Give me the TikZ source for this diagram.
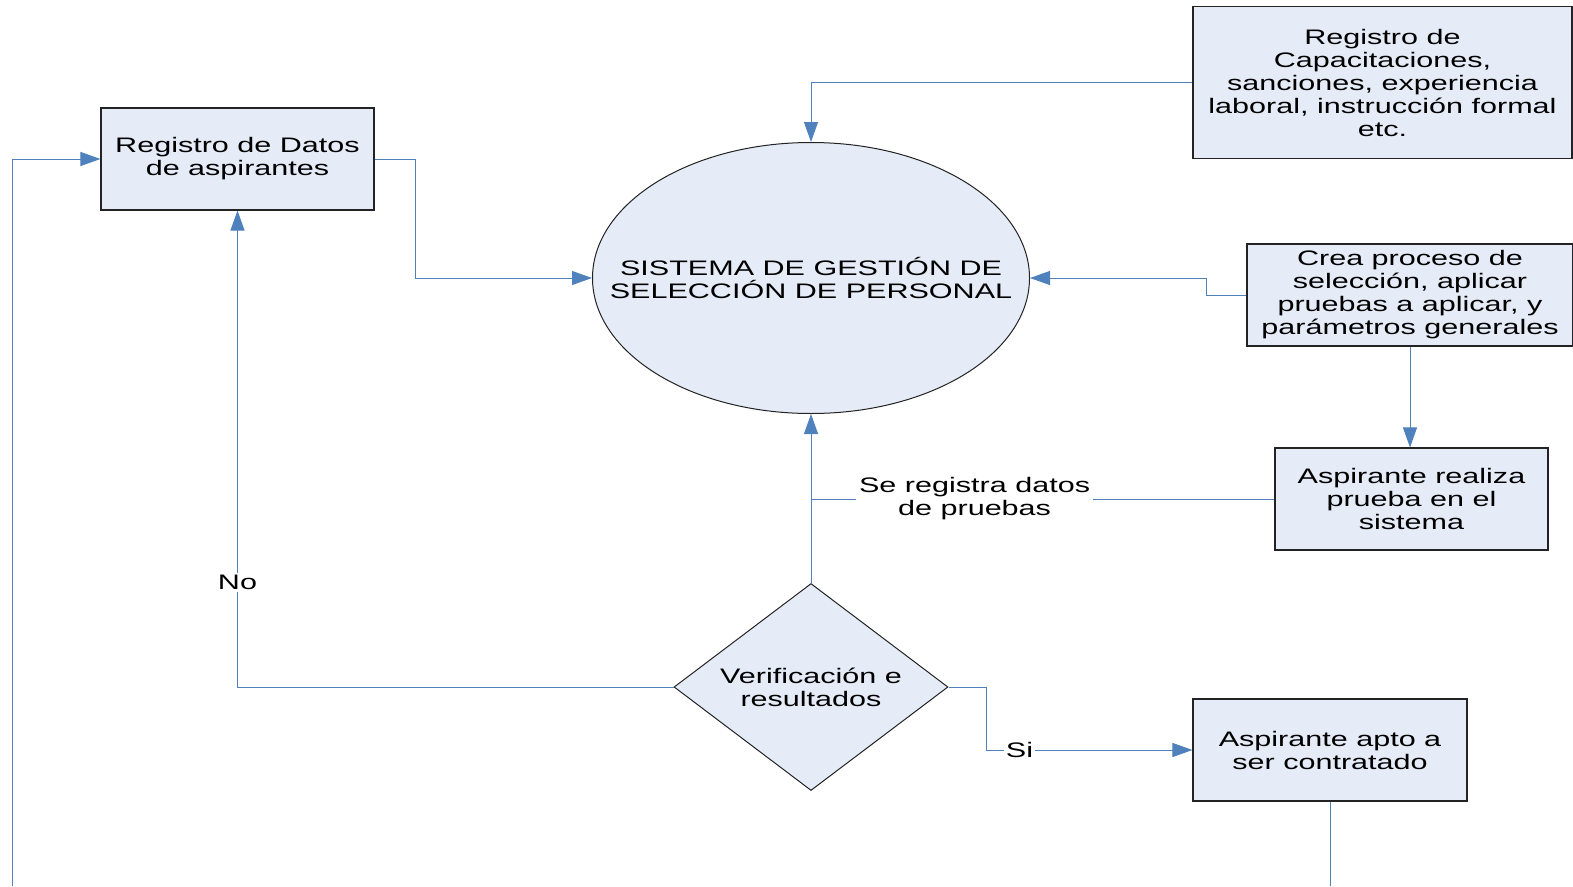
\documentclass[tikz,border=0pt]{standalone}
\usepackage{fontspec}
\setmainfont[FakeStretch=1.455]{Liberation Sans}
\usetikzlibrary{shapes.geometric,arrows.meta}
\definecolor{flow}{RGB}{79,129,189}
\definecolor{boxfill}{RGB}{230,236,247}
\definecolor{edgec}{RGB}{35,35,35}
\begin{document}
\begin{tikzpicture}[x=1pt,y=-1pt,
  every node/.style={font=\fontsize{21}{23}\selectfont, align=center, inner sep=0pt},
  box/.style={draw=edgec, fill=boxfill, line width=1.1pt, rectangle},
  conn/.style={draw=flow, line width=1pt},
  arr/.style={conn, -{Triangle[length=20pt,width=14pt]}},
  lbl/.style={fill=white, inner sep=3pt}]
\useasboundingbox (0,0) rectangle (1573,886);

\node[box, minimum width=273pt, minimum height=102pt] (b1) at (237.5,159) {Registro de Datos\\de aspirantes};
\node[ellipse, draw=edgec, fill=boxfill, line width=1pt, minimum width=437pt, minimum height=271pt] (ell) at (811,278) {};
\node (elltxt) at (ell.center) {SISTEMA DE GESTIÓN DE\\SELECCIÓN DE PERSONAL};
\node[box, minimum width=379pt, minimum height=152pt] (cap) at (1382.5,82.5) {Registro de\\Capacitaciones,\\sanciones, experiencia\\laboral, instrucción formal\\etc.};
\node[box, minimum width=326pt, minimum height=102pt] (crea) at (1410,295) {Crea proceso de\\selección, aplicar\\pruebas a aplicar, y\\parámetros generales};
\node[box, minimum width=273pt, minimum height=102pt] (real) at (1411.5,499) {Aspirante realiza\\prueba en el\\sistema};
\node[box, minimum width=274pt, minimum height=102pt] (apto) at (1330,750) {Aspirante apto a\\ser contratado};
\node[diamond, draw=edgec, fill=boxfill, line width=1pt, aspect=1.32, minimum width=274pt, minimum height=207pt] (dia) at (811,687) {Verificación e\\resultados};

\coordinate (j) at (ell.south |- real.west);
\coordinate (lb) at (12,886);
\coordinate (ab) at (apto.south |- lb);

\draw[arr] (b1.east) -- ++(41,0) |- (ell.west);
\draw[arr] (cap.west) -| (ell.north);
\draw[arr] (crea.west) -- ++(-40,0) |- (ell.east);
\draw[arr] (crea.south) -- (crea.south |- real.north);
\draw[conn] (real.west) -- node[lbl, pos=0.647] (se) {Se registra datos\\de pruebas} (j);
\draw[arr] (dia.north) -- (ell.south);
\draw[arr] (dia.west) -| node[lbl, pos=0.61, inner sep=2pt] (no) {No} (b1.south);
\draw[arr] (dia.east) -- ++(38,0) |- node[lbl, pos=0.58, inner sep=2pt] (si) {Si} (apto.west);
\draw[arr] (lb) |- (b1.west);
\draw[conn] (apto.south) -- (ab);
\end{tikzpicture}
\end{document}
